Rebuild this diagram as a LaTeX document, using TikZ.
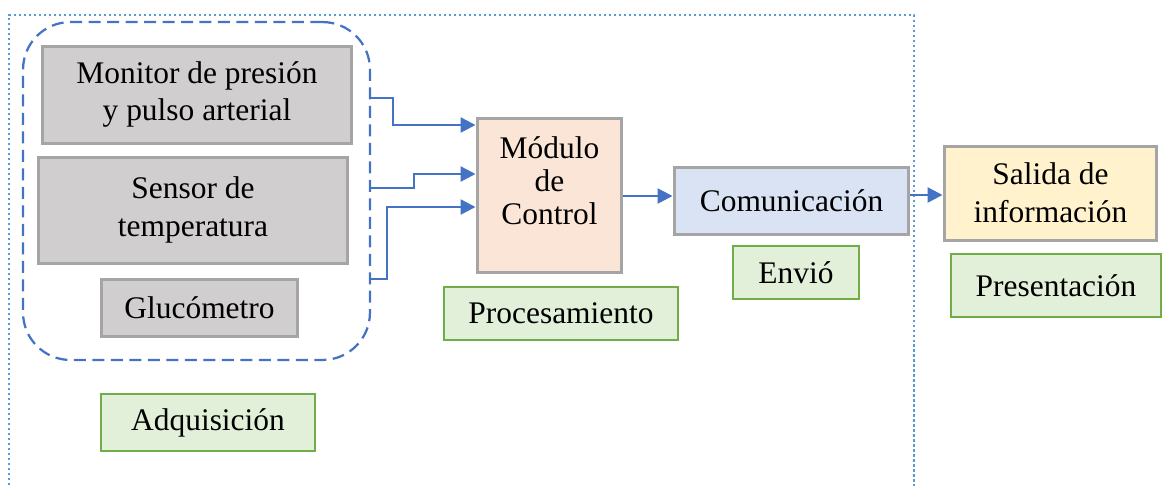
\documentclass[tikz,border=0pt]{standalone}
\usepackage{fontspec}
\setmainfont{Liberation Serif}
\usetikzlibrary{arrows.meta}
\definecolor{cGris}{RGB}{208,206,206}
\definecolor{cBorde}{RGB}{165,165,165}
\definecolor{cSalmon}{RGB}{251,229,214}
\definecolor{cCeleste}{RGB}{218,227,243}
\definecolor{cCrema}{RGB}{255,242,204}
\definecolor{cVerde}{RGB}{226,240,217}
\definecolor{cVerdeB}{RGB}{112,173,71}
\definecolor{cAzul}{RGB}{68,114,196}
\definecolor{cPunto}{RGB}{91,155,213}
\tikzset{
  caja/.style={draw=cBorde,line width=0.06cm,inner sep=0pt,align=center,font=\fontsize{17.9}{21.5}\selectfont},
  etapa/.style={draw=cVerdeB,fill=cVerde,line width=0.055cm,inner sep=0pt,font=\fontsize{17.9}{21.5}\selectfont},
  flecha/.style={cAzul,line width=0.05cm,-{Triangle[length=0.3cm,width=0.3cm]}},
}

\begin{document}
\begin{tikzpicture}[x=0.02cm,y=-0.02cm]
\useasboundingbox (0,0) rectangle (1162,485);
\draw[cPunto,line width=0.045cm,dash pattern=on 0.045cm off 0.055cm] (9,490) -- (9,15) -- (914,15) -- (914,490);
\node[draw=cAzul,line width=0.045cm,dash pattern=on 0.24cm off 0.13cm,rounded corners=0.95cm,minimum width=6.94cm,minimum height=6.76cm] (grupo) at (196.5,191) {};
\node[caja,fill=cGris,minimum width=6.2cm,minimum height=1.94cm] (monitor) at (197,94.5) {Monitor de presión\\y pulso arterial};
\node[caja,fill=cGris,minimum width=6.2cm,minimum height=2.12cm] (sensor) at (193,210) {Sensor de\\temperatura};
\node[caja,fill=cGris,minimum width=3.94cm,minimum height=1.14cm] (gluco) at (199.5,307.5) {Glucómetro};
\node[etapa,minimum width=4.28cm,minimum height=1.14cm] (adq) at (208,422.5) {Adquisición};
\node[caja,fill=cSalmon,minimum width=2.9cm,minimum height=3.1cm] (modulo) at (549.5,195.5)
  {\begin{tabular}{@{}c@{}}Módulo\\[-2.8pt]de\\[-2.8pt]Control\\[0.45cm]\end{tabular}};
\node[etapa,minimum width=4.68cm,minimum height=1.06cm] (proc) at (561,313.5) {Procesamiento};
\node[caja,fill=cCeleste,minimum width=4.7cm,minimum height=1.34cm] (comunic) at (791.5,200.5) {Comunicación};
\node[etapa,minimum width=2.52cm,minimum height=1.06cm] (envio) at (796,272.5) {Envió};
\node[caja,fill=cCrema,minimum width=4.26cm,minimum height=1.88cm] (salida) at (1050.5,193) {Salida de\\información};
\node[etapa,minimum width=4.2cm,minimum height=1.26cm] (present) at (1056,285.5) {Presentación};
\draw[flecha] (grupo.east |- 0,98) -- ++(22,0) |- (modulo.west |- 0,125);
\draw[flecha] (grupo.east |- 0,188) -- ++(43,0) |- (modulo.west |- 0,174);
\draw[flecha] (grupo.east |- 0,279) -- ++(16,0) |- (modulo.west |- 0,207);
\draw[flecha] (modulo.east |- 0,196) -- (comunic.west |- 0,196);
\draw[flecha] (comunic.east |- 0,195) -- (salida.west |- 0,195);
\end{tikzpicture}
\end{document}
